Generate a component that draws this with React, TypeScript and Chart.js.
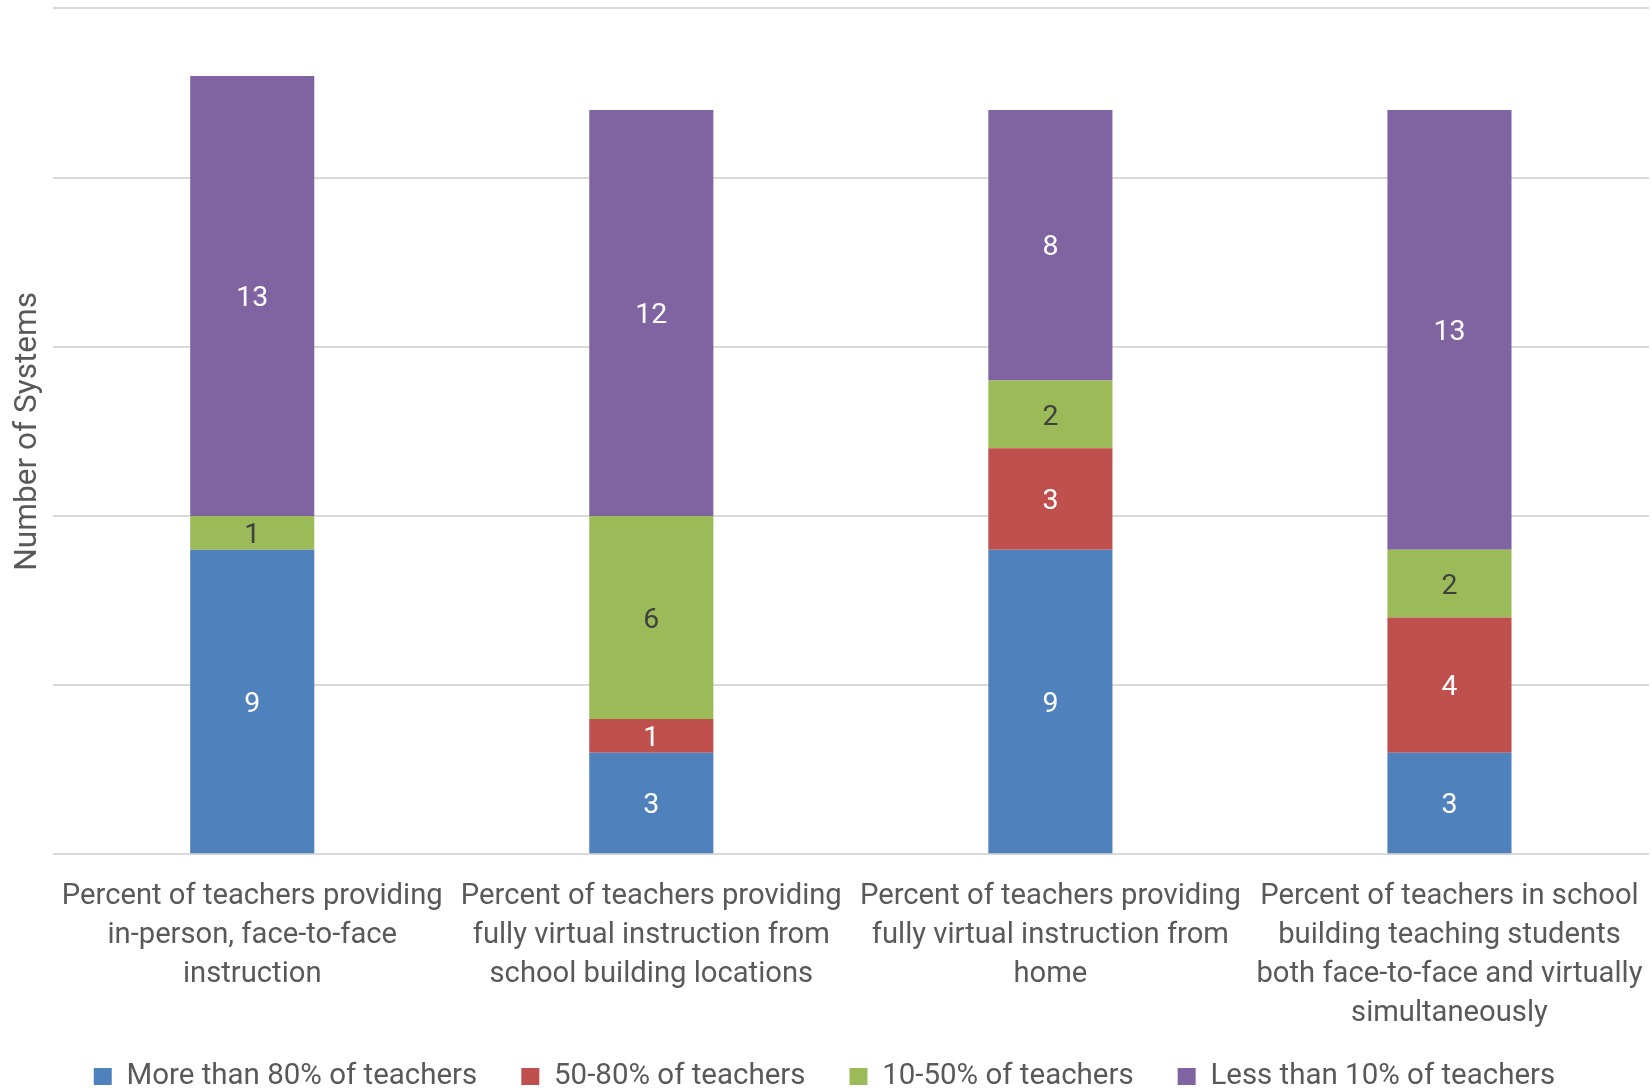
import React, { useEffect, useRef } from "react";
import { Chart, registerables } from "chart.js";

Chart.register(...registerables);

const categories: string[][] = [
  ["Percent of teachers providing", "in-person, face-to-face", "instruction"],
  ["Percent of teachers providing", "fully virtual instruction from", "school building locations"],
  ["Percent of teachers providing", "fully virtual instruction from", "home"],
  ["Percent of teachers in school", "building teaching students", "both face-to-face and virtually", "simultaneously"],
];

const seriesNames = [
  "More than 80% of teachers",
  "50-80% of teachers",
  "10-50% of teachers",
  "Less than 10% of teachers",
];

const moreThan80 = [9, 3, 9, 3];
const from50to80 = [0, 1, 3, 4];
const from10to50 = [1, 6, 2, 2];
const lessThan10 = [13, 12, 8, 13];

const yMax = 25;
const yStep = 5;
const yTitle = "Number of Systems";

const seriesColors = ["#4F81BD", "#C0504D", "#9BBB59", "#8064A2"];
const labelColors = ["#FFFFFF", "#FFFFFF", "#404040", "#FFFFFF"];

const FAMILY = "Roboto, sans-serif";
const TEXT = "#595959";
const LEGEND_GAP = 44;

function fitSize(text: string, target: number): number {
  const c = document.createElement("canvas").getContext("2d");
  if (!c) return 26;
  c.font = `100px ${FAMILY}`;
  return (100 * target) / c.measureText(text).width;
}

const valueLabels = {
  id: "valueLabels",
  afterLayout(chart: any) {
    const xs = chart.scales.x;
    if (xs) xs.bottom = chart.height;
  },
  afterDatasetsDraw(chart: any, _args: any, opts: any) {
    const ctx = chart.ctx;
    ctx.save();
    ctx.textAlign = "center";
    ctx.textBaseline = "middle";
    ctx.font = `${opts.size}px ${FAMILY}`;
    chart.data.datasets.forEach((ds: any, di: number) => {
      const meta = chart.getDatasetMeta(di);
      meta.data.forEach((el: any, i: number) => {
        const v = ds.data[i];
        if (!v) return;
        const { x, y, base } = el.getProps(["x", "y", "base"], true);
        ctx.fillStyle = labelColors[di];
        ctx.fillText(String(v), x, (y + base) / 2 + 3);
      });
    });
    ctx.restore();
  },
};

export default function App() {
  const ref = useRef<HTMLCanvasElement | null>(null);

  useEffect(() => {
    document.body.style.margin = "0";
    const canvas = ref.current;
    if (!canvas) return;
    const tickSize = fitSize("Percent of teachers providing", 381);
    const legendSize = fitSize("More than 80% of teachers", 351);
    const titleSize = fitSize(yTitle, 279);
    const valueSize = fitSize("13", 32);
    const series = [moreThan80, from50to80, from10to50, lessThan10];

    const chart = new Chart(canvas, {
      type: "bar",
      data: {
        labels: categories,
        datasets: series.map((d, i) => ({
          label: seriesNames[i],
          data: d,
          backgroundColor: seriesColors[i],
          borderWidth: 0,
          categoryPercentage: 1,
          barPercentage: 0.311,
        })),
      },
      plugins: [valueLabels],
      options: {
        responsive: false,
        animation: false,
        devicePixelRatio: 1,
        layout: { padding: { top: 8.4, right: 3, left: 0, bottom: 5.4 - legendSize / 2 - 4 } },
        plugins: {
          tooltip: { enabled: false },
          valueLabels: { size: valueSize },
          legend: {
            position: "bottom",
            align: "center",
            labels: {
              boxWidth: 18,
              boxHeight: 17,
              padding: LEGEND_GAP,
              color: TEXT,
              font: { family: FAMILY, size: legendSize },
            },
          },
        } as any,
        scales: {
          x: {
            stacked: true,
            grid: { display: false, drawTicks: false },
            border: { display: false },
            ticks: {
              color: TEXT,
              font: { family: FAMILY, size: tickSize, lineHeight: 39 / tickSize },
              padding: 23,
              maxRotation: 0,
              minRotation: 0,
              autoSkip: false,
            },
            afterFit: (s: any) => {
              s.height = 155.6 + (52 - LEGEND_GAP);
              s.paddingLeft = 0;
              s.paddingRight = 0;
            },
          },
          y: {
            stacked: true,
            min: 0,
            max: yMax,
            ticks: { display: false, stepSize: yStep },
            grid: { color: "#D9D9D9", lineWidth: 2, drawTicks: false },
            border: { display: false },
            title: {
              display: true,
              text: yTitle,
              color: TEXT,
              font: { family: FAMILY, size: titleSize, lineHeight: 1.2 },
              padding: { top: 28.5 - titleSize * 0.6, bottom: 0 },
            },
            afterFit: (s: any) => {
              s.width = 52.7;
            },
          },
        },
      },
    });
    return () => chart.destroy();
  }, []);

  return (
    <div style={{ width: 1652, height: 1088 }}>
      <canvas ref={ref} width={1652} height={1088} style={{ display: "block" }} />
    </div>
  );
}
